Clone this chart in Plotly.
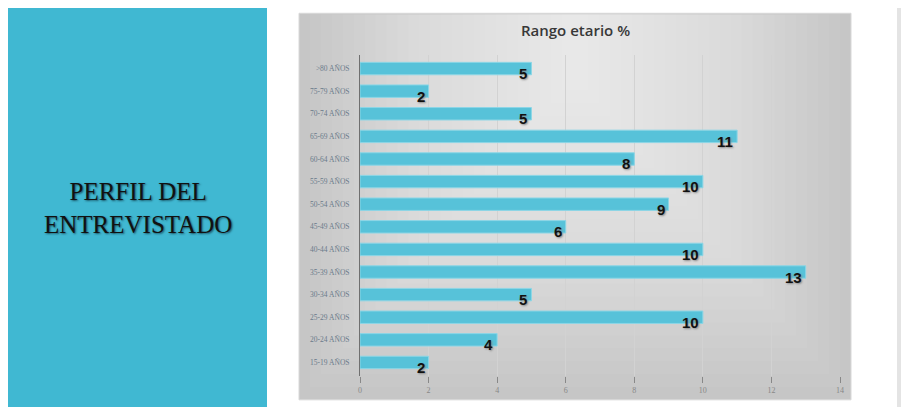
import plotly.graph_objects as go

categories = ["15-19 AÑOS", "20-24 AÑOS", "25-29 AÑOS", "30-34 AÑOS", "35-39 AÑOS",
              "40-44 AÑOS", "45-49 AÑOS", "50-54 AÑOS", "55-59 AÑOS", "60-64 AÑOS",
              "65-69 AÑOS", "70-74 AÑOS", "75-79 AÑOS", ">80 AÑOS"]
values = [2, 4, 10, 5, 13, 10, 6, 9, 10, 8, 11, 5, 2, 5]
x_ticks = [0, 2, 4, 6, 8, 10, 12, 14]
title_text = "Rango etario %"
panel_text = "PERFIL DEL<br>ENTREVISTADO"

OFF = 8  # page body margin
W, H = 909 - OFF, 407 - OFF
# plot area in reference-window pixels
L, R, T, B = 360, 840, 55, 378


def px(x):
    return (x - L) / (R - L)


def py(y):
    return (B - y) / (B - T)


fig = go.Figure()
fig.add_trace(go.Bar(
    x=values, y=categories, orientation="h",
    marker=dict(color="#57C2D9", line=dict(color="#8CD6E6", width=1)),
    width=0.55, hoverinfo="x+y",
))

shapes = []
# left blue panel
shapes.append(dict(type="rect", xref="paper", yref="paper", x0=px(8), x1=px(267),
                   y0=py(410), y1=py(7), fillcolor="#40B8D2", line=dict(width=0), layer="below"))
# right grey panel
shapes.append(dict(type="rect", xref="paper", yref="paper", x0=px(897), x1=px(912),
                   y0=py(410), y1=py(7), fillcolor="#E4E4E4", line=dict(width=0), layer="below"))
# chart frame with approximate gradient (nested rectangles)
fx0, fx1, fy0, fy1 = 299, 851, 13, 402
shapes.append(dict(type="rect", xref="paper", yref="paper", x0=px(fx0), x1=px(fx1),
                   y0=py(fy1), y1=py(fy0), fillcolor="#C6C6C6",
                   line=dict(color="#D8D8D8", width=1), layer="below"))
steps = 24
for i in range(1, steps + 1):
    f = i / steps
    dx = (fx1 - fx0) / 2 * f * 0.95
    shapes.append(dict(type="rect", xref="paper", yref="paper",
                       x0=px(fx0 + dx), x1=px(fx1 - dx),
                       y0=py(fy1 - (fy1 - fy0) * f * 0.8), y1=py(fy0 + 1),
                       fillcolor="rgba(255,255,255,0.05)", line=dict(width=0), layer="below"))
fig.update_layout(shapes=shapes)

annotations = []
for v, c in zip(values, categories):
    annotations.append(dict(x=v, y=c, xref="x", yref="y", text=str(v), showarrow=False,
                            xanchor="right", yanchor="middle", xshift=-2, yshift=-5,
                            font=dict(family="Liberation Sans", size=15, color="#111111",
                                      weight="bold", shadow="1px 1px 2px #888888")))
annotations.append(dict(x=px(575), y=py(30), xref="paper", yref="paper", text=title_text,
                        showarrow=False, xanchor="center", yanchor="middle",
                        font=dict(family="Open Sans", size=15, color="#383838", weight=600)))
annotations.append(dict(x=px(138), y=py(209), xref="paper", yref="paper", text=panel_text,
                        showarrow=False, xanchor="center", yanchor="middle",
                        font=dict(family="Liberation Serif", size=25, color="#111111",
                                  shadow="1px 1px 2px #1a5566")))
fig.update_layout(annotations=annotations)

fig.update_layout(
    width=W, height=H,
    margin=dict(l=L - OFF, r=W - (R - OFF), t=T - OFF, b=H - (B - OFF), pad=0),
    paper_bgcolor="white", plot_bgcolor="rgba(0,0,0,0)",
    showlegend=False,
    xaxis=dict(range=[0, 14], tickvals=x_ticks, showgrid=True, gridcolor="#D2D2D2",
               gridwidth=1, zeroline=False, showline=False, ticks="outside", ticklen=6,
               tickcolor="#888888", tickfont=dict(family="Liberation Serif", size=8, color="#888888"),
               fixedrange=True),
    yaxis=dict(categoryorder="array", categoryarray=categories, showgrid=False,
               showline=True, linecolor="#707070", linewidth=1, ticks="",
               ticklabelstandoff=8,
               tickfont=dict(family="Liberation Serif", size=7.5, color="#6A7A8A"),
               fixedrange=True, range=[-0.6, 13.6]),
)

fig.write_html("out.html")
